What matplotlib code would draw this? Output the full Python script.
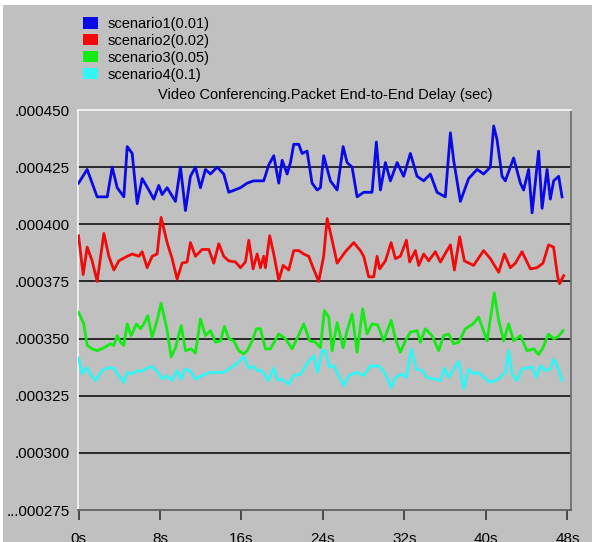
import matplotlib
matplotlib.use("Agg")
import matplotlib.pyplot as plt
from matplotlib.patches import Patch, Rectangle

plt.rcParams['font.family'] = ['Liberation Sans', 'DejaVu Sans']

# delay values in units of 1e-6 sec, times in seconds
s1_t = [0.0, 0.85, 1.83, 2.82, 3.31, 3.80, 4.45, 4.78, 5.27, 5.76,
        6.25, 6.90, 7.39, 7.88, 8.21, 8.70, 9.52, 10.01, 10.50, 10.99,
        11.48, 11.97, 12.46, 12.95, 13.61, 14.26, 14.75, 15.90, 16.56, 17.20,
        18.18, 18.68, 19.17, 19.66, 19.99, 20.48, 20.81, 21.13, 21.62, 21.95,
        22.44, 22.93, 23.43, 23.75, 24.07, 24.73,
        25.39, 25.98, 26.37, 26.86, 27.35, 28.00, 28.82, 29.24, 29.64, 30.13,
        30.62, 31.28, 31.92, 32.58, 33.24, 33.89, 34.54, 35.20, 36.01, 36.51,
        36.83, 37.49, 38.30, 39.13, 39.77, 40.43, 40.76, 41.09, 41.58, 41.90,
        42.72, 43.38, 43.70, 44.19, 44.53, 45.17, 45.51, 46.00, 46.32, 46.65,
        47.14, 47.47]
s1_v = [418, 424, 412, 412, 425, 416, 412, 434, 431, 409,
        420, 415, 411, 417, 413, 416, 410, 425, 406, 421,
        425, 416, 424, 422, 425, 422, 414, 416, 418, 419,
        419, 426, 430, 418, 428, 422, 427, 435, 435, 431,
        432, 418, 415, 416, 430, 419,
        415, 434, 427, 425, 412, 414, 414, 436, 415, 427,
        419, 427, 421, 431, 421, 419, 422, 414, 412, 440,
        428, 410, 420, 424, 422, 425, 443, 437, 421, 419,
        429, 418, 415, 424, 405, 432, 407, 424, 411, 419,
        421, 412]

s2_t = [0.0, 0.46, 0.85, 1.34, 1.83, 2.49, 2.98, 3.47, 3.96, 4.78,
        5.27, 5.92, 6.25, 6.74, 7.23, 7.72, 8.11, 8.70, 9.19, 9.68,
        10.17, 10.66, 10.99, 11.48, 12.14, 12.79, 13.28, 13.77, 14.26, 14.75,
        15.41, 15.90, 16.39, 16.72, 17.14, 17.54, 17.86, 18.18, 18.35, 18.77,
        19.17, 19.66, 20.09, 20.64, 21.13, 21.62, 22.11, 22.60, 23.03, 23.58,
        24.07, 24.41,
        24.90, 25.39, 26.20, 27.02, 27.67, 28.00, 28.49, 28.98, 29.31, 29.57,
        30.13, 30.69, 31.11, 31.60, 32.19, 32.51, 33.07, 33.40, 33.89, 34.38,
        35.03, 35.53, 36.11, 36.51, 36.90, 37.42, 37.88, 38.79, 39.77, 40.43,
        41.25, 41.81, 42.39, 42.89, 43.54, 44.36, 45.01, 45.60, 46.15, 46.64,
        47.04, 47.23, 47.63]
s2_v = [395, 378, 390, 384, 375, 396, 386, 380, 384, 386,
        387, 386, 388, 381, 386, 387, 403, 392, 385, 376,
        383, 383.5, 392, 386, 389, 389, 383, 391.5, 386, 384,
        383.5, 381, 383.5, 393, 380.5, 387, 381, 386, 381, 395,
        387, 375.5, 382, 380, 388.5, 388.5, 387, 386, 381, 375,
        386, 402.5,
        393, 383, 388, 392, 388.5, 386, 377, 377, 386, 380.5,
        384, 392, 385, 386, 393, 383.5, 388.5, 382, 387, 384,
        388, 383.5, 388, 391, 380, 394.5, 384, 382, 388.5, 385,
        379, 387, 381, 383, 388, 380.5, 381, 383, 391, 390,
        377, 374, 377.5]

s3_t = [0.0, 0.52, 0.85, 1.34, 1.83, 2.49, 3.14, 3.47, 3.80, 4.12,
        4.45, 4.78, 5.17, 5.69, 6.08, 6.41, 6.80, 7.23, 7.72, 8.11,
        8.64, 9.10, 9.52, 10.08, 10.50, 11.06, 11.48, 11.97, 12.46, 12.95,
        13.44, 13.93, 14.33, 14.75, 15.24, 15.73, 16.22, 16.56, 17.05, 17.47,
        17.86, 18.35, 18.84, 19.66, 20.31, 20.97, 21.52, 22.11, 22.70, 23.26,
        23.75, 24.14, 24.56,
        24.90, 25.39, 25.98, 26.37, 26.86, 27.35, 27.90, 28.33, 28.82, 29.37,
        29.96, 30.69, 31.11, 31.60, 32.09, 32.58, 33.24, 33.56, 34.05, 34.71,
        35.36, 35.85, 36.34, 36.83, 37.32, 37.98, 38.73, 39.28, 40.11, 40.82,
        41.25, 41.74, 42.23, 42.72, 43.38, 44.03, 44.69, 45.17, 45.60, 46.15,
        46.64, 47.04, 47.57]
s3_v = [361.5, 356.4, 347, 345.5, 344.7, 346, 347.7, 347, 351.3, 348.4,
        347, 356.4, 351.3, 356.4, 354.3, 356.4, 360, 350.6, 358, 365.5,
        355, 342, 346, 355.7, 344.7, 345.5, 343.6, 358.6, 351.3, 353.5,
        348.4, 349, 355.3, 350, 349, 344.7, 343.3, 344.7, 349, 354.3,
        354.3, 345.5, 345.5, 352, 350, 345.5, 350.6, 356.4, 349, 348.4,
        346, 362.3, 359.4,
        344.7, 357, 346, 353.5, 360.8, 344, 363, 352, 356.4, 356,
        349, 358, 350, 344, 349, 352.8, 353.5, 348.4, 354.3, 351.3,
        344.7, 351.3, 352, 347.7, 348.4, 354.3, 356.4, 359.4, 349, 370,
        358, 349, 356.4, 349, 351.3, 344.7, 345.5, 343, 346, 352,
        350, 350.6, 353.5]

s4_t = [0.0, 0.36, 0.79, 1.18, 1.67, 2.33, 2.97, 3.47, 3.96, 4.45,
        4.78, 5.27, 5.76, 6.25, 6.74, 7.23, 7.72, 8.21, 8.70, 9.19,
        9.68, 10.08, 10.50, 10.99, 11.48, 12.14, 12.95, 13.61, 14.26, 14.92,
        15.57, 16.22, 16.71, 17.20, 17.54, 17.86, 18.35, 18.67, 19.17, 19.56,
        19.99, 20.64, 21.13, 21.79, 22.44, 23.09, 23.48, 23.91, 24.24, 24.66,
        25.05, 25.54, 26.04, 26.53, 27.35, 28.00, 28.66, 28.98, 29.47, 30.13,
        30.69, 31.11, 31.77, 32.19, 32.65, 33.17, 33.73, 34.22, 34.87, 35.53,
        35.92, 36.34, 36.83, 37.32, 37.81, 38.30, 38.79, 39.28, 39.77, 40.43,
        41.25, 41.90, 42.23, 42.56, 43.05, 43.54, 44.03, 44.53, 44.95, 45.34,
        45.83, 46.32, 46.64, 47.04, 47.47]
s4_v = [341.5, 334.5, 337.4, 334.5, 331.6, 336, 337.4, 337, 333.8, 330.8,
        335.2, 334.5, 336, 335.7, 337.1, 337.7, 335.7, 332.3, 333.8, 331.6,
        336, 332.3, 336.7, 335.7, 332.3, 333.8, 335.2, 335.2, 335.2, 337.1,
        339.1, 342.1, 337.1, 337.8, 336, 336.2, 333.8, 331.6, 337.1, 331.8,
        332.3, 330, 333.8, 334.5, 339, 342.5, 335.2, 344.7, 344.7, 337.4,
        338.2, 333.8, 329.4, 333.8, 335.2, 333.8, 338.2, 337.8, 338.2, 334.5,
        328.6, 333, 334.5, 333, 345.5, 336.7, 336, 333, 332.3, 331.6,
        337.1, 333, 336.7, 340, 328, 336.7, 334.5, 335.2, 333, 330.8,
        332.3, 335.2, 344.7, 334.5, 331.6, 336.7, 337.1, 337.7, 333, 338.2,
        336, 336.7, 341, 337.8, 331.6]

series_names = ['scenario1(0.01)', 'scenario2(0.02)', 'scenario3(0.05)', 'scenario4(0.1)']
series_colors = ['#0a0ae6', '#f00a0a', '#14eb14', '#32f5f5']

y_ticks = [450, 425, 400, 375, 350, 325, 300, 275]
y_ticklabels = ['.000450', '.000425', '.000400', '.000375', '.000350', '.000325', '.000300', '...000275']
grid_vals = [425, 400, 375, 350, 325, 300]
x_ticks = [0, 8, 16, 24, 32, 40, 48]
x_ticklabels = ['0s', '8s', '16s', '24s', '32s', '40s', '48s']
title = 'Video Conferencing.Packet End-to-End Delay (sec)'

bg = '#c0c0c0'
fig = plt.figure(figsize=(5.92, 5.42), dpi=100, facecolor=bg)

# thin white border along the top and left edge of the screenshot
fig.patches.append(Rectangle((0, 1 - 5/542), 1, 5/542, transform=fig.transFigure,
                             facecolor='white', edgecolor='none', zorder=0))
fig.patches.append(Rectangle((0, 0), 3/592, 1, transform=fig.transFigure,
                             facecolor='white', edgecolor='none', zorder=0))

ax = fig.add_axes([78/592, 1 - 510/542, (571 - 78)/592, (510 - 110)/542])
ax.set_facecolor(bg)

ax.hlines(grid_vals, 0, 1, transform=ax.get_yaxis_transform(), colors='#1e1e1e', linewidth=1.3, zorder=1)

for t, v, c in zip([s1_t, s2_t, s3_t, s4_t], [s1_v, s2_v, s3_v, s4_v], series_colors):
    ax.plot(t, v, color=c, linewidth=2.0, zorder=3)

ax.set_xlim(-0.05, 48.35)
ax.set_ylim(275, 450)

ax.set_yticks(y_ticks)
ax.set_yticklabels(y_ticklabels, fontsize=11)
ax.tick_params(axis='y', length=0, pad=6)
ax.set_xticks(x_ticks)
ax.set_xticklabels(x_ticklabels, fontsize=11)
ax.tick_params(axis='x', length=7.5, width=1.3, color='#404040', pad=8)

ax.spines['left'].set_color('#f4f4f4')
ax.spines['top'].set_color('#f4f4f4')
ax.spines['right'].set_color('#707070')
ax.spines['bottom'].set_color('#606060')
for sp in ax.spines.values():
    sp.set_linewidth(1.3)

fig.text(325/592, 1 - 95/542, title, ha='center', va='center', fontsize=10.5)

handles = [Patch(facecolor=c, edgecolor='none') for c in series_colors]
ax.legend(handles, series_names, loc='upper left', bbox_to_anchor=(83/592, 1 - 17/542),
          bbox_transform=fig.transFigure, frameon=False, fontsize=10.5,
          handlelength=1.05, handleheight=0.8, handletextpad=0.65,
          labelspacing=0.2, borderpad=0, borderaxespad=0)

fig.savefig('out.png', dpi=100, facecolor=bg)
